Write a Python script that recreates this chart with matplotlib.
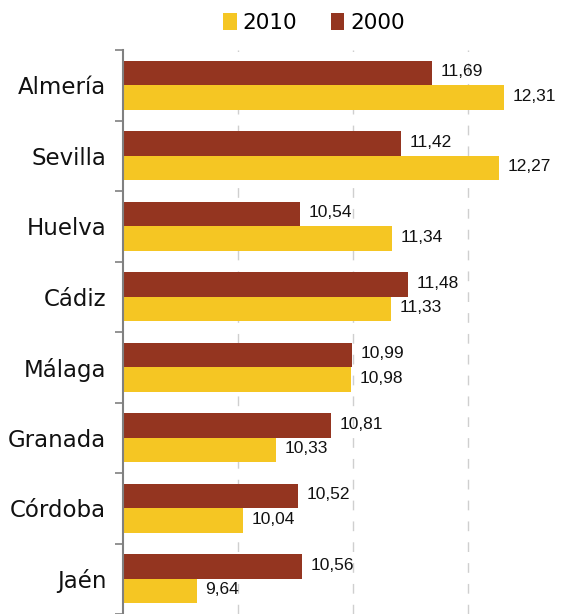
import matplotlib
matplotlib.use('Agg')
import matplotlib.pyplot as plt
import numpy as np

# provinces, top to bottom
provincias = ['Almería', 'Sevilla', 'Huelva', 'Cádiz', 'Málaga', 'Granada', 'Córdoba', 'Jaén']
valores_2000 = [11.69, 11.42, 10.54, 11.48, 10.99, 10.81, 10.52, 10.56]
valores_2010 = [12.31, 12.27, 11.34, 11.33, 10.98, 10.33, 10.04, 9.64]

col_2000 = '#943520'
col_2010 = '#F5C623'

fig = plt.figure(figsize=(5.76, 6.14), dpi=100)
# axes runs past the right edge of the picture, like the original
ax = fig.add_axes([123/576, 0.0, 460/576, 564/614])

y = np.arange(len(provincias))
h = 0.345
ax.barh(y - h/2, valores_2000, height=h, color=col_2000, label='2000', zorder=2)
ax.barh(y + h/2, valores_2010, height=h, color=col_2010, label='2010', zorder=2)

ax.set_xlim(9, 13)
ax.set_ylim(len(provincias) - 0.5, -0.5)

# value labels with comma decimal
lab_font = ['Liberation Sans Narrow', 'Liberation Sans']
for i in range(len(provincias)):
    ax.text(valores_2000[i] + 0.075, y[i] - h/2 - 0.02, f'{valores_2000[i]:.2f}'.replace('.', ','),
            va='center', ha='left', fontsize=12.5, family=lab_font, color='#111111')
    ax.text(valores_2010[i] + 0.075, y[i] + h/2 - 0.02, f'{valores_2010[i]:.2f}'.replace('.', ','),
            va='center', ha='left', fontsize=12.5, family=lab_font, color='#111111')

# gridlines
for gx in [10, 11, 12]:
    ax.axvline(gx, color='#cfcfcf', lw=1, ls=(0, (7, 8)), zorder=1)

ax.set_xticks([])
ax.set_yticks(y)
ax.set_yticklabels(provincias, fontsize=16.5, family='DejaVu Sans', color='#111111')
ax.tick_params(axis='y', which='major', length=0, pad=12)
ax.set_yticks(np.arange(len(provincias) + 1) - 0.5, minor=True)
ax.tick_params(axis='y', which='minor', length=6, color='#808080', width=1.2)

for s in ['top', 'right', 'bottom']:
    ax.spines[s].set_visible(False)
ax.spines['left'].set_color('#808080')
ax.spines['left'].set_linewidth(1.5)

# legend at the top
handles, labels = ax.get_legend_handles_labels()
fig.legend(handles[::-1], labels[::-1], loc='center', bbox_to_anchor=(314/576, 1 - 23/614),
           ncol=2, frameon=False, prop={'family': 'DejaVu Sans', 'size': 15.5},
           handlelength=0.62, handleheight=0.85, handletextpad=0.28, columnspacing=1.55)

fig.savefig('out.png', dpi=100)
